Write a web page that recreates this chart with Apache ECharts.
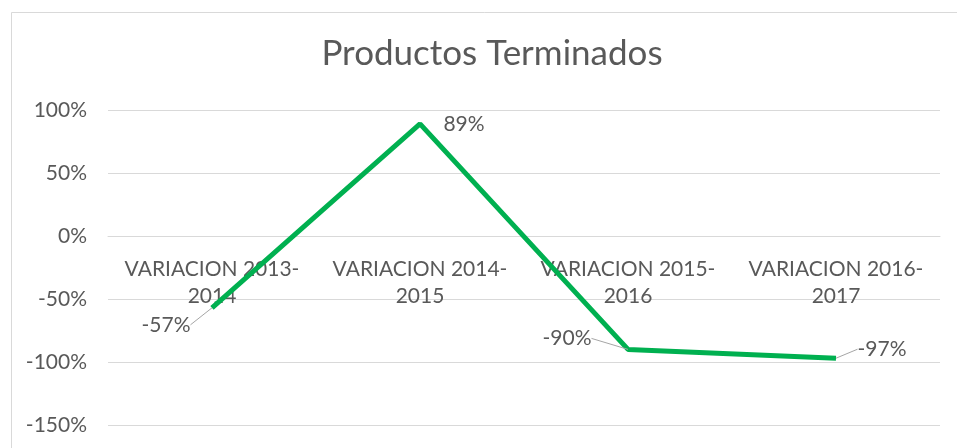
<!DOCTYPE html>
<html>
<head>
<meta charset="utf-8">
<script src="https://cdn.jsdelivr.net/npm/echarts@6/dist/echarts.min.js"></script>
<style>html,body{margin:0;padding:0;background:#fff}#c{width:957px;height:448px}</style>
</head>
<body>
<div id="c"></div>
<script>
const titleText = 'Productos Terminados';
const categories = ['VARIACION 2013-\n2014', 'VARIACION 2014-\n2015', 'VARIACION 2015-\n2016', 'VARIACION 2016-\n2017'];
const values = [-0.57, 0.89, -0.90, -0.97];
const yTicks = [-1.5, -1.0, -0.5, 0, 0.5, 1.0];

// label offsets (px) relative to each point
const labelOffsets = [[-46, 17], [44, 0], [-61, -11], [46, -9]];
const showLeader = [true, false, true, true];

const chart = echarts.init(document.getElementById('c'), null, {renderer: 'canvas'});
const FONT = 'Lato';
const TXT = '#595959';
const GRIDC = '#d9d9d9';
chart.setOption({
  animation: false,
  backgroundColor: '#fff',
  graphic: [{
    type: 'rect', left: 9, top: 10, silent: true, z: -10,
    shape: {width: 970, height: 460},
    style: {fill: 'none', stroke: GRIDC, lineWidth: 1}
  }],
  title: {
    text: titleText, left: 487, top: 31, textAlign: 'center',
    textStyle: {fontFamily: FONT, fontSize: 35, fontWeight: 'normal', color: TXT}
  },
  grid: [
    {left: 108, right: 17, top: 110, bottom: 23, containLabel: false, outerBoundsMode: 'none'},
    // upper part of the plot (100% .. 0%), used only to place category labels under the 0% line
    {left: 108, right: 17, top: 110, bottom: 212, containLabel: false, outerBoundsMode: 'none'}
  ],
  xAxis: [{
    type: 'category', data: categories, boundaryGap: true, gridIndex: 0,
    axisLine: {show: false}, axisTick: {show: false}, axisLabel: {show: false}
  }, {
    type: 'category', data: categories, boundaryGap: true, gridIndex: 1,
    axisLine: {show: true, lineStyle: {color: GRIDC, width: 1}},
    axisTick: {show: false},
    axisLabel: {fontFamily: FONT, fontSize: 21, color: TXT, margin: 20, lineHeight: 27, interval: 0}
  }],
  yAxis: [{
    type: 'value', gridIndex: 0, min: yTicks[0], max: yTicks[yTicks.length - 1], interval: 0.5,
    axisLine: {show: false}, axisTick: {show: false},
    splitLine: {lineStyle: {color: GRIDC, width: 1}},
    axisLabel: {fontFamily: FONT, fontSize: 21, color: TXT, margin: 21,
      formatter: v => Math.round(v * 100) + '%'}
  }, {
    type: 'value', gridIndex: 1, min: 0, max: 1, show: false
  }],
  series: [{
    type: 'line', xAxisIndex: 0, yAxisIndex: 0,
    data: values.map((v, i) => ({value: v, labelLine: {show: showLeader[i]}})),
    symbol: 'circle', symbolSize: 0.1, showSymbol: true,
    lineStyle: {color: '#00B050', width: 5},
    itemStyle: {color: '#00B050'},
    z: 5,
    label: {show: true, position: 'inside', fontFamily: FONT, fontSize: 21, color: TXT,
      formatter: p => Math.round(p.value * 100) + '%'},
    labelLine: {show: true, lineStyle: {color: '#a6a6a6', width: 1}},
    labelLayout: p => ({dx: labelOffsets[p.dataIndex][0], dy: labelOffsets[p.dataIndex][1]})
  }]
});
</script>
</body>
</html>
